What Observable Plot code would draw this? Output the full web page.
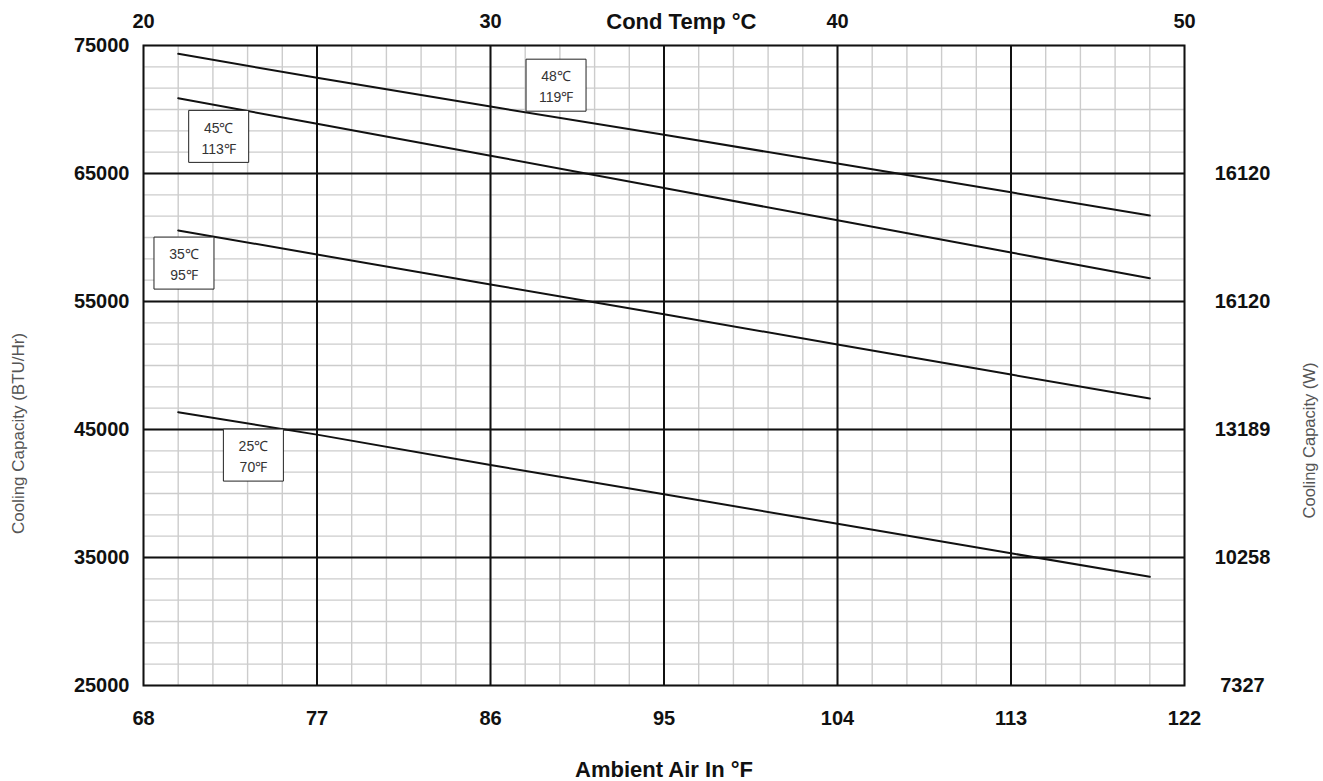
<!DOCTYPE html>
<html>
<head>
<meta charset="utf-8">
<script src="https://cdn.jsdelivr.net/npm/d3@7"></script>
<script src="https://cdn.jsdelivr.net/npm/@observablehq/plot@0.6"></script>
<style>
  html, body { margin: 0; padding: 0; background: #fff; }
  #chart svg { display: block; }
</style>
</head>
<body>
<div id="chart"></div>
<script>
// ---- data ----
const ambientF = [69.8, 77, 86, 95, 104, 113, 120.2];
const cap48 = [74350, 72480, 70230, 68020, 65780, 63530, 61720];
const cap45 = [70880, 68880, 66390, 63870, 61340, 58830, 56820];
const cap35 = [60550, 58670, 56330, 54010, 51640, 49290, 47420];
const cap25 = [46350, 44600, 42220, 39950, 37630, 35330, 33490];
const seriesNames = ["48℃", "45℃", "35℃", "25℃"];

const labelTexts = ["48℃\n119℉", "45℃\n113℉", "35℃\n95℉", "25℃\n70℉"];
const labelX = [89.4, 71.9, 70.1, 73.7];
const labelY = [71900, 67900, 58000, 43000];

const xTicksF = [68, 77, 86, 95, 104, 113, 122];
const yTicks = [25000, 35000, 45000, 55000, 65000, 75000];
const rightTickValues = [25000, 35000, 45000, 55000, 65000];
const rightTickLabels = ["7327", "10258", "13189", "16120", "16120"];
const topTicksC = [20, 30, 40, 50];

// ---- build ----
const allSeries = [cap48, cap45, cap35, cap25];
const lineData = allSeries.flatMap((s, i) => s.map((v, j) => ({series: seriesNames[i], x: ambientF[j], y: v})));
const labels = labelTexts.map((t, i) => ({text: t, x: labelX[i], y: labelY[i]}));
const minorX = d3.range(0, 31).map(k => 68 + 1.8 * k);
const minorY = d3.range(0, 31).map(k => 25000 + k * 10000 / 6);
const majorX = [77, 86, 95, 104, 113];
const majorY = [35000, 45000, 55000, 65000];
const topTicks = topTicksC.map(c => ({c, f: c * 9 / 5 + 32}));
const rightTicks = rightTickValues.map((v, i) => ({v, t: rightTickLabels[i]}));

const boxSymbol = {
  draw(ctx) { ctx.rect(-30, -26, 60, 52); }
};

const font = "'Liberation Sans', Arial, Helvetica, sans-serif";
const tickSize = 20;
const titleSize = 22;

const chart = Plot.plot({
  width: 1323,
  height: 781,
  marginLeft: 143,
  marginRight: 139,
  marginTop: 45,
  marginBottom: 96,
  style: {fontFamily: font, background: "#fff"},
  x: {domain: [68, 122], axis: null},
  y: {domain: [25000, 75000], axis: null},
  marks: [
    Plot.gridX(minorX, {stroke: "#cccccc", strokeOpacity: 1, strokeWidth: 1.4}),
    Plot.gridY(minorY, {stroke: "#cccccc", strokeOpacity: 1, strokeWidth: 1.4}),
    Plot.gridX(majorX, {stroke: "#111", strokeOpacity: 1, strokeWidth: 2}),
    Plot.gridY(majorY, {stroke: "#111", strokeOpacity: 1, strokeWidth: 2}),
    Plot.frame({stroke: "#111", strokeWidth: 2}),
    Plot.line(lineData, {x: "x", y: "y", z: "series", stroke: "#111", strokeWidth: 2}),
    Plot.dot(labels, {x: "x", y: "y", symbol: boxSymbol, fill: "white", stroke: "#222", strokeWidth: 1}),
    Plot.text(labels, {x: "x", y: "y", text: "text", fontSize: 14, lineHeight: 1.5, fill: "#333", lineAnchor: "middle"}),
    // bottom ticks
    Plot.text(xTicksF, {x: d => d, frameAnchor: "bottom", dy: 33, lineAnchor: "middle", text: d => String(d), fontSize: tickSize, fontWeight: "bold", fill: "#111"}),
    // left ticks
    Plot.text(yTicks, {y: d => d, frameAnchor: "left", dx: -14, textAnchor: "end", text: d => String(d), fontSize: tickSize, fontWeight: "bold", fill: "#111"}),
    // right ticks
    Plot.text(rightTicks, {y: "v", frameAnchor: "right", dx: 58, textAnchor: "middle", text: "t", fontSize: tickSize, fontWeight: "bold", fill: "#111"}),
    // top ticks
    Plot.text(topTicks, {x: "f", frameAnchor: "top", dy: -24, lineAnchor: "middle", text: d => String(d.c), fontSize: tickSize, fontWeight: "bold", fill: "#111"}),
    // top title
    Plot.text(["Cond Temp °C"], {x: 95.9, frameAnchor: "top", dy: -24, lineAnchor: "middle", fontSize: titleSize, fontWeight: "bold", fill: "#111"}),
    // bottom title
    Plot.text(["Ambient Air In °F"], {frameAnchor: "bottom", dy: 84, lineAnchor: "middle", fontSize: titleSize, fontWeight: "bold", fill: "#111"}),
    // left title
    Plot.text(["Cooling Capacity (BTU/Hr)"], {x: 61.5, y: 44690, rotate: -90, fontSize: 17, fill: "#555", lineAnchor: "middle"}),
    // right title
    Plot.text(["Cooling Capacity (W)"], {x: 128.5, y: 44140, rotate: -90, fontSize: 16.5, fill: "#555", lineAnchor: "middle"})
  ]
});
document.getElementById("chart").appendChild(chart);
</script>
</body>
</html>
